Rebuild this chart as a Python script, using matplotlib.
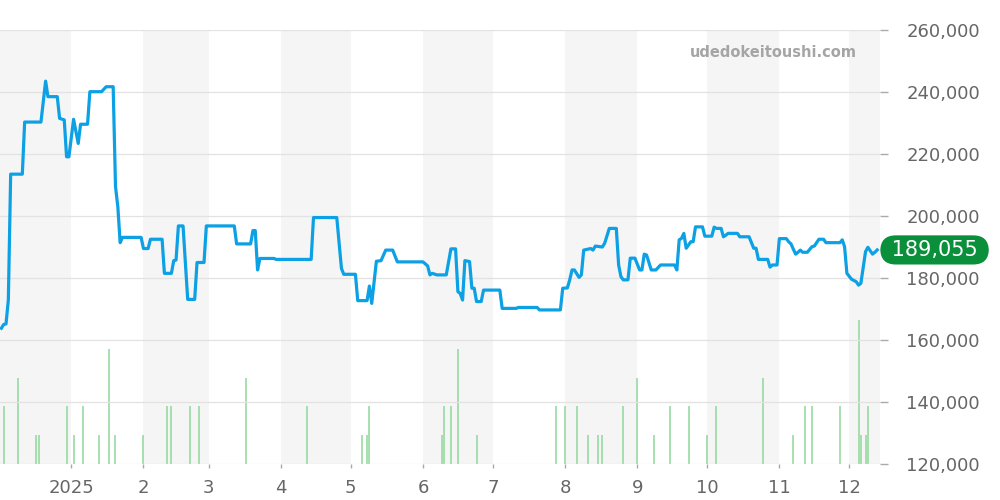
import numpy as np
import pandas as pd
import matplotlib
matplotlib.use('Agg')
import matplotlib.pyplot as plt
import matplotlib.dates as mdates
from matplotlib.ticker import FuncFormatter, FixedLocator

# price line (vertices)
price_dates = [
    '2024-12-02', '2024-12-03', '2024-12-04', '2024-12-05', '2024-12-06', '2024-12-11', '2024-12-12',
    '2024-12-19', '2024-12-21', '2024-12-22', '2024-12-26', '2024-12-27', '2024-12-29', '2024-12-30',
    '2024-12-31', '2025-01-02', '2025-01-04', '2025-01-05', '2025-01-08', '2025-01-09', '2025-01-14',
    '2025-01-16', '2025-01-19', '2025-01-20', '2025-01-21', '2025-01-22', '2025-01-23', '2025-01-31',
    '2025-02-01', '2025-02-03', '2025-02-04', '2025-02-09', '2025-02-10', '2025-02-13', '2025-02-14',
    '2025-02-15', '2025-02-16', '2025-02-18', '2025-02-20', '2025-02-23', '2025-02-24', '2025-02-27',
    '2025-02-28', '2025-03-12', '2025-03-13', '2025-03-19', '2025-03-20', '2025-03-21', '2025-03-22',
    '2025-03-23', '2025-03-29', '2025-03-30', '2025-04-14', '2025-04-15', '2025-04-25', '2025-04-27',
    '2025-04-28', '2025-05-03', '2025-05-04', '2025-05-08', '2025-05-09', '2025-05-10', '2025-05-12',
    '2025-05-14', '2025-05-16', '2025-05-19', '2025-05-21', '2025-06-01', '2025-06-03', '2025-06-04',
    '2025-06-05', '2025-06-07', '2025-06-11', '2025-06-13', '2025-06-15', '2025-06-16', '2025-06-17',
    '2025-06-18', '2025-06-19', '2025-06-21', '2025-06-22', '2025-06-23', '2025-06-24', '2025-06-26',
    '2025-06-27', '2025-07-04', '2025-07-05', '2025-07-11', '2025-07-12', '2025-07-20', '2025-07-21',
    '2025-07-30', '2025-07-31', '2025-08-02', '2025-08-03', '2025-08-04', '2025-08-05', '2025-08-07',
    '2025-08-08', '2025-08-09', '2025-08-12', '2025-08-13', '2025-08-14', '2025-08-17', '2025-08-18',
    '2025-08-20', '2025-08-23', '2025-08-24', '2025-08-25', '2025-08-26', '2025-08-28', '2025-08-29',
    '2025-08-31', '2025-09-02', '2025-09-03', '2025-09-04', '2025-09-05', '2025-09-07', '2025-09-09',
    '2025-09-11', '2025-09-17', '2025-09-18', '2025-09-19', '2025-09-20', '2025-09-21', '2025-09-22',
    '2025-09-24', '2025-09-25', '2025-09-26', '2025-09-29', '2025-09-30', '2025-10-03', '2025-10-04',
    '2025-10-05', '2025-10-07', '2025-10-08', '2025-10-09', '2025-10-10', '2025-10-14', '2025-10-15',
    '2025-10-19', '2025-10-21', '2025-10-22', '2025-10-23', '2025-10-27', '2025-10-28', '2025-10-29',
    '2025-10-31', '2025-11-01', '2025-11-04', '2025-11-05', '2025-11-06', '2025-11-07', '2025-11-08',
    '2025-11-09', '2025-11-10', '2025-11-11', '2025-11-13', '2025-11-15', '2025-11-16', '2025-11-18',
    '2025-11-20', '2025-11-21', '2025-11-27', '2025-11-28', '2025-11-29', '2025-11-30', '2025-12-02',
    '2025-12-04', '2025-12-05', '2025-12-06', '2025-12-08', '2025-12-09', '2025-12-11', '2025-12-12',
    '2025-12-13',
]
price_values = [
    163800, 165000, 165200, 173000, 213500, 213500, 230300,
    230300, 243500, 238500, 238500, 231500, 231000, 219100,
    219100, 231200, 223400, 229600, 229600, 240100, 240100,
    241700, 241700, 209500, 203000, 191400, 193100, 193100,
    189500, 189500, 192500, 192500, 181500, 181500, 185600,
    185800, 196800, 196800, 173100, 173100, 185000, 185000,
    196800, 196800, 191000, 191000, 195300, 195300, 182600,
    186300, 186300, 186000, 186000, 199500, 199500, 183100,
    181200, 181200, 172700, 172700, 177400, 171800, 185400,
    185600, 189000, 189000, 185200, 185200, 183900, 181000,
    181500, 181000, 181000, 189400, 189400, 175600, 175000,
    172900, 185600, 185300, 176700, 176700, 172400, 172400,
    176100, 176100, 170200, 170200, 170500, 170500, 169700,
    169700, 176700, 176800, 179400, 182600, 182600, 180200,
    181000, 189000, 189500, 189000, 190300, 190000, 191200,
    196000, 196000, 184200, 180400, 179400, 179400, 186400,
    186400, 182600, 182600, 187700, 187400, 182600, 182600,
    184200, 184200, 182600, 192300, 192800, 194400, 189600,
    191700, 191700, 196500, 196500, 193500, 193500, 196400,
    196000, 196000, 193300, 193800, 194400, 194400, 193300,
    193300, 189600, 189600, 186000, 186000, 183500, 184200,
    184200, 192700, 192700, 191700, 191000, 189300, 187700,
    188300, 189000, 188300, 188300, 190100, 190300, 192500,
    192500, 191400, 191400, 192300, 190100, 181500, 179600,
    178800, 177700, 178300, 188500, 189900, 187700, 188300,
    189055,
]

# trade counts (green bars)
volume_dates = [
    '2024-12-03', '2024-12-09', '2024-12-17', '2024-12-18', '2024-12-30', '2025-01-02', '2025-01-06',
    '2025-01-13', '2025-01-17', '2025-01-20', '2025-02-01', '2025-02-11', '2025-02-13', '2025-02-21',
    '2025-02-25', '2025-03-17', '2025-04-12', '2025-05-06', '2025-05-08', '2025-05-09', '2025-06-09',
    '2025-06-10', '2025-06-13', '2025-06-16', '2025-06-24', '2025-07-28', '2025-08-01', '2025-08-06',
    '2025-08-11', '2025-08-15', '2025-08-17', '2025-08-26', '2025-09-01', '2025-09-08', '2025-09-15',
    '2025-09-23', '2025-10-01', '2025-10-05', '2025-10-25', '2025-11-07', '2025-11-12', '2025-11-15',
    '2025-11-27', '2025-12-05', '2025-12-06', '2025-12-08', '2025-12-09',
]
volume_counts = [
    2, 3, 1, 1, 2, 1, 2,
    1, 4, 1, 1, 2, 2, 2,
    2, 3, 2, 1, 1, 2, 1,
    2, 2, 4, 1, 2, 2, 2,
    1, 1, 1, 2, 3, 1, 2,
    2, 1, 2, 3, 1, 2, 2,
    2, 5, 1, 1, 2,
]

month_starts = ['2024-12-01', '2025-01-01', '2025-02-01', '2025-03-01', '2025-04-01', '2025-05-01',
                '2025-06-01', '2025-07-01', '2025-08-01', '2025-09-01', '2025-10-01', '2025-11-01',
                '2025-12-01', '2026-01-01']
month_labels = ['2025', '2', '3', '4', '5', '6', '7', '8', '9', '10', '11', '12']

LINE_COLOR = '#0ca0e4'
BAR_COLOR = '#8fd79b'
BADGE_COLOR = '#0a8f3a'
TEXT_COLOR = '#666666'


def main():
    dates = pd.to_datetime(price_dates)
    vdates = pd.to_datetime(volume_dates)
    months = pd.to_datetime(month_starts)
    x_start = pd.Timestamp('2024-12-01 10:00')
    x_end = pd.Timestamp('2025-12-14 05:00')

    fig = plt.figure(figsize=(10, 5), dpi=100)
    vol_ax = fig.add_axes([0.0, 0.072, 0.88, 0.868])
    ax = vol_ax.twinx()

    # alternating month bands
    for i in range(len(months) - 1):
        if i % 2 == 0:
            vol_ax.axvspan(months[i], months[i + 1], color='#f5f5f5', lw=0, zorder=0)

    vol_ax.vlines(vdates, 0, volume_counts, colors=BAR_COLOR, linewidth=1.1, zorder=2)
    vol_ax.set_ylim(0, 15.07)
    vol_ax.set_yticks([])

    ax.plot(dates, price_values, color=LINE_COLOR, linewidth=2.3, solid_joinstyle='round', zorder=3)
    ax.set_ylim(120000, 260000)
    ax.yaxis.set_major_locator(FixedLocator(np.arange(120000, 260001, 20000)))
    ax.yaxis.set_major_formatter(FuncFormatter(lambda v, _: f'{int(v):,}'))
    ax.grid(axis='y', color='#e2e2e2', linewidth=0.9)
    ax.set_axisbelow(True)
    ax.tick_params(axis='y', which='major', direction='out', length=6, width=1, color='#aaaaaa',
                   pad=13, labelsize=13, labelcolor=TEXT_COLOR)

    for a in (ax, vol_ax):
        for s in a.spines.values():
            s.set_visible(False)
        a.set_xlim(x_start, x_end)

    vol_ax.xaxis.set_major_locator(FixedLocator(mdates.date2num(months[1:13])))
    vol_ax.set_xticklabels(month_labels)
    vol_ax.tick_params(axis='x', direction='out', length=3, width=1, color='#aaaaaa',
                       pad=8, labelsize=13, labelcolor=TEXT_COLOR)
    ax.tick_params(axis='x', bottom=False, labelbottom=False)

    # last price badge
    ax.annotate(' ' + f'{price_values[-1]:,}' + ' ', xy=(1.0, price_values[-1]),
                xycoords=('axes fraction', 'data'), xytext=(3.5, 0), textcoords='offset points',
                ha='left', va='center', fontsize=15, color='white', annotation_clip=False,
                bbox=dict(boxstyle='round,pad=0.22,rounding_size=0.75', fc=BADGE_COLOR, ec='none'))

    ax.text(0.974, 0.949, 'udedokeitoushi.com', transform=ax.transAxes, ha='right', va='center',
            fontsize=10.5, fontweight='bold', color='#a5a5a5')

    fig.savefig('out.png', dpi=100)


if __name__ == '__main__':
    main()
